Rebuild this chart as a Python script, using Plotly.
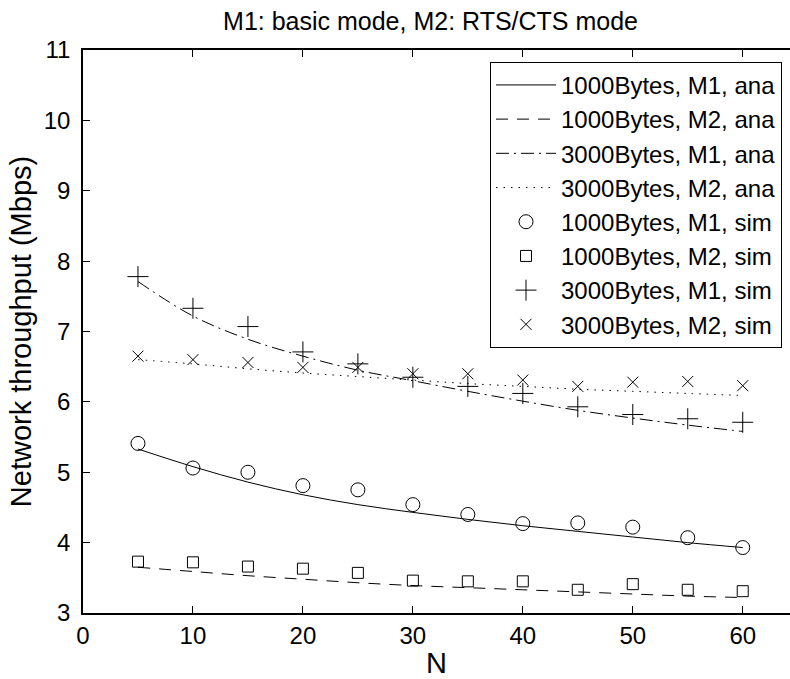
import plotly.graph_objects as go

# values
N = [5, 10, 15, 20, 25, 30, 35, 40, 45, 50, 55, 60]

ana_1000_m1 = [5.33, 5.08, 4.86, 4.68, 4.54, 4.43, 4.33, 4.24, 4.16, 4.08, 4.00, 3.93]
ana_1000_m2 = [3.65, 3.59, 3.53, 3.48, 3.43, 3.39, 3.36, 3.33, 3.30, 3.27, 3.24, 3.22]
ana_3000_m1 = [7.71, 7.22, 6.89, 6.65, 6.45, 6.30, 6.15, 6.01, 5.88, 5.77, 5.67, 5.58]
ana_3000_m2 = [6.60, 6.54, 6.47, 6.41, 6.36, 6.31, 6.26, 6.22, 6.18, 6.15, 6.12, 6.09]

sim_1000_m1 = [5.41, 5.06, 5.00, 4.81, 4.75, 4.54, 4.40, 4.27, 4.28, 4.22, 4.07, 3.93]
sim_1000_m2 = [3.73, 3.72, 3.66, 3.63, 3.57, 3.46, 3.45, 3.45, 3.33, 3.41, 3.33, 3.31]
sim_3000_m1 = [7.78, 7.33, 7.07, 6.71, 6.54, 6.35, 6.22, 6.12, 5.93, 5.82, 5.76, 5.71]
sim_3000_m2 = [6.65, 6.60, 6.56, 6.49, 6.49, 6.40, 6.40, 6.31, 6.22, 6.28, 6.29, 6.23]

FONT = "Liberation Sans, Arial, sans-serif"

fig = go.Figure()

lines = [
    (ana_1000_m1, "1000Bytes, M1, ana", "solid"),
    (ana_1000_m2, "1000Bytes, M2, ana", "12px,9px"),
    (ana_3000_m1, "3000Bytes, M1, ana", "13px,5px,2px,5px"),
    (ana_3000_m2, "3000Bytes, M2, ana", "1.5px,6px"),
]
for y, name, dash in lines:
    fig.add_trace(go.Scatter(
        x=N, y=y, mode='lines', name=name, line_shape='spline',
        line=dict(color='black', width=1, dash=dash)
    ))

sims = [
    (sim_1000_m1, "1000Bytes, M1, sim", "circle-open", 14),
    (sim_1000_m2, "1000Bytes, M2, sim", "square-open", 11),
    (sim_3000_m1, "3000Bytes, M1, sim", "cross-thin-open", 15),
    (sim_3000_m2, "3000Bytes, M2, sim", "x-thin-open", 11),
]
for y, name, sym, size in sims:
    fig.add_trace(go.Scatter(
        x=N, y=y, mode='markers', name=name,
        marker=dict(symbol=sym, size=size, color='black',
                    line=dict(color='black', width=1))
    ))

fig.update_layout(
    width=790, height=679,
    margin=dict(l=83, r=0, t=50, b=66),
    paper_bgcolor='white', plot_bgcolor='white',
    font=dict(family=FONT, size=24, color='black'),
    title=dict(text="M1: basic mode, M2: RTS/CTS mode", x=0.545, xanchor='center',
               y=0.968, yanchor='middle', font=dict(size=25)),
    showlegend=True,
    legend=dict(x=0.9887, xanchor='right', y=0.979, yanchor='top',
                bordercolor='black', borderwidth=1, bgcolor='white',
                font=dict(size=24), itemwidth=60, tracegroupgap=0),
)
fig.update_xaxes(
    range=[0, 64.3], tickvals=[0, 10, 20, 30, 40, 50, 60],
    showline=True, linecolor='black', linewidth=1.5, mirror='ticks',
    ticks='inside', ticklen=7, tickcolor='black', tickwidth=1,
    showgrid=False, zeroline=False, ticklabelstandoff=0, automargin=False,
    title=dict(text="N", standoff=0)
)
fig.update_yaxes(
    range=[3, 11], tickvals=[3, 4, 5, 6, 7, 8, 9, 10, 11],
    showline=True, linecolor='black', linewidth=1.5, mirror=False,
    ticks='inside', ticklen=7, tickcolor='black', tickwidth=1,
    showgrid=False, zeroline=False, ticklabelstandoff=6, automargin=False,
    title=dict(text="Network throughput (Mbps)", standoff=4)
)

# the page body has a default 8px margin; drop it so the figure fills the window
fig.write_html("out.html", config={'displayModeBar': False},
               post_script="document.body.style.margin='0';")
